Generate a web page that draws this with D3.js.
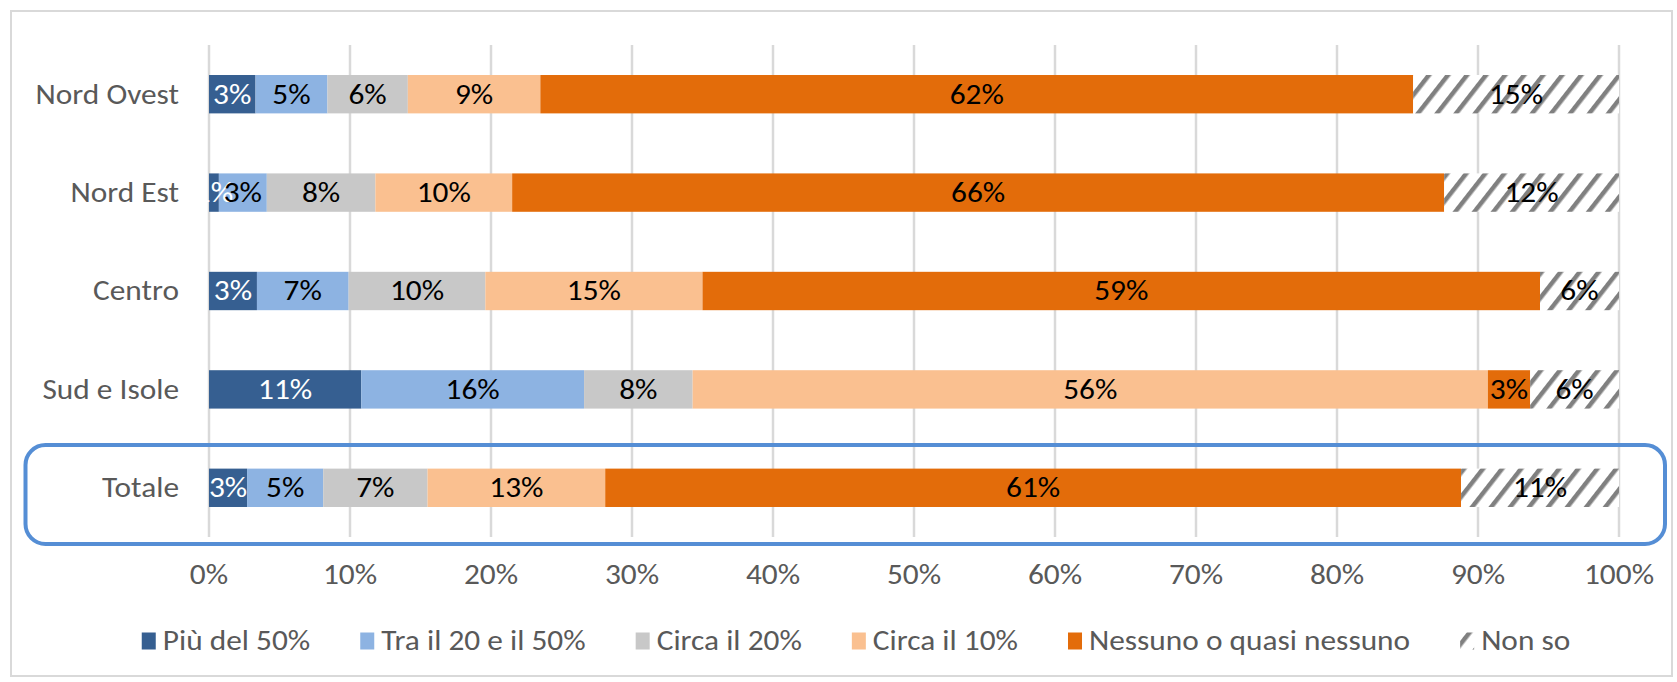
<!DOCTYPE html>
<html>
<head>
<meta charset="utf-8">
<script src="https://cdn.jsdelivr.net/npm/d3@7"></script>
<style>
  html, body { margin: 0; padding: 0; background: #fff; }
  svg text { font-family: Carlito, Lato, "Open Sans", sans-serif; }
</style>
</head>
<body>
<svg id="chart" width="1677" height="682"></svg>
<script>
// ---- Data ----
const categories = ["Nord Ovest", "Nord Est", "Centro", "Sud e Isole", "Totale"];
const seriesNames = ["Più del 50%", "Tra il 20 e il 50%", "Circa il 20%", "Circa il 10%", "Nessuno o quasi nessuno", "Non so"];
const piuDel50     = [3.3, 0.7, 3.4, 10.8, 2.7];
const tra20e50     = [5.1, 3.4, 6.5, 15.8, 5.4];
const circa20      = [5.7, 7.7, 9.7, 7.7, 7.4];
const circa10      = [9.4, 9.7, 15.4, 56.4, 12.6];
const nessuno      = [61.9, 66.1, 59.4, 3.0, 60.7];
const nonSo        = [14.6, 12.4, 5.6, 6.3, 11.2];
const tickValues   = [0, 10, 20, 30, 40, 50, 60, 70, 80, 90, 100];

const seriesValues = [piuDel50, tra20e50, circa20, circa10, nessuno, nonSo];
const colors = ["#365f91", "#8db3e2", "#c8c8c8", "#fac090", "#e36c0a", "url(#hatch)"];
const labelColors = ["#ffffff", "#000000", "#000000", "#000000", "#000000", "#000000"];

const svg = d3.select("#chart");
const FS = 28;
const SX = 1.12;

function place(sel, fx, fy) {
  sel.attr("transform", (d, i) => `translate(${fx(d, i)},${fy(d, i)}) scale(${SX},1)`);
}

// pattern
const defs = svg.append("defs");
const pat = defs.append("pattern")
  .attr("id", "hatch")
  .attr("patternUnits", "userSpaceOnUse")
  .attr("width", 15).attr("height", 20)
  .attr("patternTransform", "rotate(38)");
pat.append("rect").attr("width", 15).attr("height", 20).attr("fill", "#ffffff");
pat.append("rect").attr("x", 0).attr("width", 4.5).attr("height", 20).attr("fill", "#808080");

// outer border
svg.append("rect").attr("x", 11).attr("y", 11).attr("width", 1661).attr("height", 665)
  .attr("fill", "none").attr("stroke", "#d9d9d9").attr("stroke-width", 2);

const x = d3.scaleLinear().domain([0, 100]).range([209, 1619]);
const y = d3.scaleBand().domain(categories).range([45, 537]).paddingInner(0.61).paddingOuter(0.305);

// gridlines
svg.append("g").selectAll("line").data(tickValues).join("line")
  .attr("x1", d => x(d)).attr("x2", d => x(d))
  .attr("y1", 45).attr("y2", 537)
  .attr("stroke", "#d9d9d9").attr("stroke-width", 2.5);

// tick labels
svg.append("g").selectAll("text").data(tickValues).join("text")
  .call(place, d => x(d), () => 575)
  .attr("text-anchor", "middle").attr("dominant-baseline", "central")
  .attr("font-size", FS).attr("fill", "#595959")
  .text(d => d + "%");

// category labels
svg.append("g").selectAll("text").data(categories).join("text")
  .call(place, () => 179, d => y(d) + y.bandwidth() / 2)
  .attr("text-anchor", "end").attr("dominant-baseline", "central")
  .attr("font-size", FS).attr("fill", "#595959")
  .text(d => d);

// stack
const rows = categories.map((c, i) => {
  const o = { cat: c };
  seriesNames.forEach((s, j) => o[s] = seriesValues[j][i]);
  return o;
});
const stack = d3.stack().keys(seriesNames)(rows);

const layers = svg.append("g").selectAll("g").data(stack).join("g")
  .attr("fill", (d, i) => colors[i]);
layers.selectAll("rect").data(d => d).join("rect")
  .attr("x", d => x(d[0]))
  .attr("width", d => x(d[1]) - x(d[0]))
  .attr("y", d => y(d.data.cat))
  .attr("height", y.bandwidth());

// labels
const lab = svg.append("g");
stack.forEach((layer, i) => {
  lab.append("g").selectAll("text").data(layer).join("text")
    .call(place, d => (x(d[0]) + x(d[1])) / 2, d => y(d.data.cat) + y.bandwidth() / 2)
    .attr("text-anchor", "middle").attr("dominant-baseline", "central")
    .attr("font-size", FS).attr("fill", labelColors[i])
    .text(d => d3.format(".0f")(d[1] - d[0]) + "%");
});

// highlight box around Totale
svg.append("rect").attr("x", 25.5).attr("y", 445).attr("width", 1639.5).attr("height", 99)
  .attr("rx", 20).attr("ry", 20)
  .attr("fill", "none").attr("stroke", "#558ed5").attr("stroke-width", 4);

// legend
const lg = svg.append("g");
const items = lg.selectAll("g").data(seriesNames).join("g");
items.append("rect").attr("width", 14).attr("height", 17).attr("y", -8.5)
  .attr("fill", (d, i) => colors[i]);
items.append("text")
  .attr("transform", `translate(21,0) scale(${SX},1)`)
  .attr("dominant-baseline", "central")
  .attr("font-size", FS).attr("fill", "#595959").text(d => d);
let widths = [];
items.each(function() { widths.push(21 + d3.select(this).select("text").node().getComputedTextLength() * SX); });
const gap = 50;
const total = d3.sum(widths) + gap * (widths.length - 1);
let cx = 856 - total / 2;
items.attr("transform", (d, i) => {
  const t = `translate(${cx},641)`;
  cx += widths[i] + gap;
  return t;
});
</script>
</body>
</html>
